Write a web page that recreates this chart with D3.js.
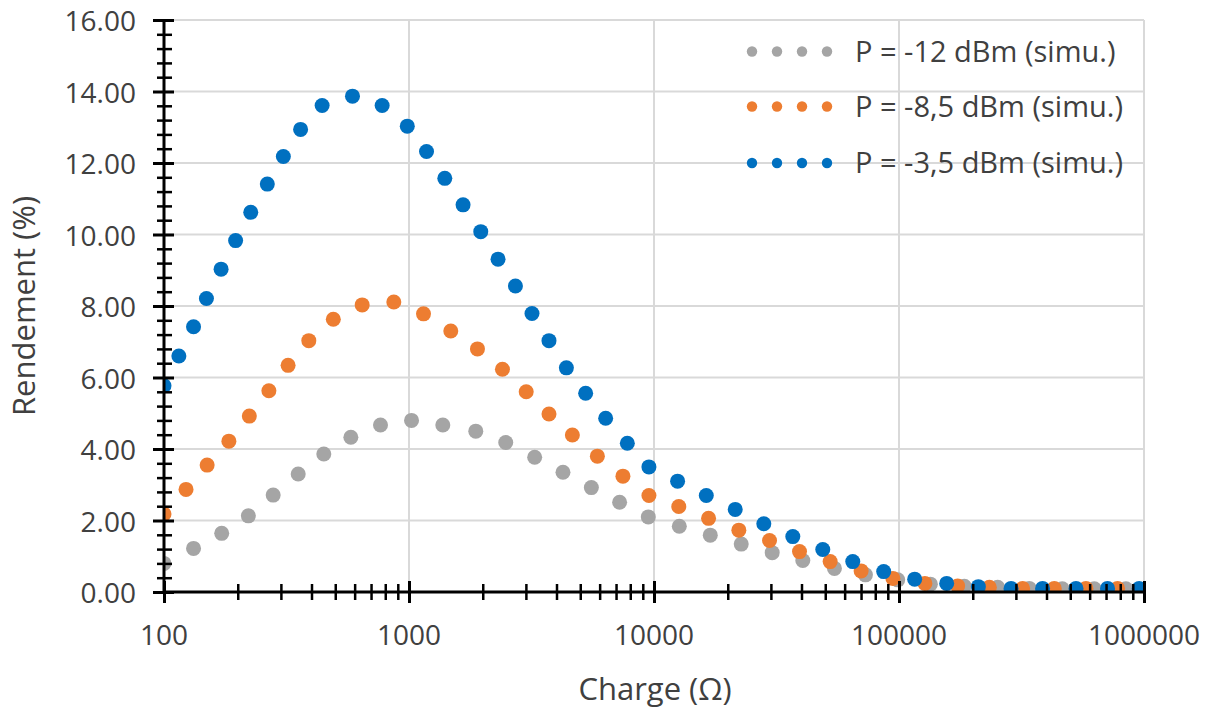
<!DOCTYPE html>
<html>
<head>
<meta charset="utf-8">
<script src="https://cdn.jsdelivr.net/npm/d3@7"></script>
<style>
  html, body { margin: 0; padding: 0; background: #ffffff; }
  svg { display: block; }
  text { font-family: "Open Sans", "Noto Sans", sans-serif; fill: #404040; }
</style>
</head>
<body>
<svg id="chart" width="1215" height="713"></svg>
<script>
// ---------- data ----------
const seriesNames = ["P = -12 dBm (simu.)", "P = -8,5 dBm (simu.)", "P = -3,5 dBm (simu.)"];
const seriesColors = ["#a5a5a5", "#ed7d31", "#0070c0"];

const xGrey = [100, 132, 172, 221, 279, 353, 449, 579, 765, 1024, 1374, 1873, 2482, 3258, 4251, 5550, 7238, 9479, 12685, 16970, 22699, 30370, 40491, 54512, 72946, 98790, 134276, 184800, 252700, 340200, 463800, 626700, 843700];
const yGrey = [0.80, 1.22, 1.64, 2.13, 2.71, 3.30, 3.86, 4.33, 4.67, 4.80, 4.67, 4.50, 4.18, 3.77, 3.35, 2.92, 2.51, 2.10, 1.84, 1.59, 1.34, 1.10, 0.88, 0.66, 0.48, 0.34, 0.22, 0.16, 0.13, 0.10, 0.09, 0.09, 0.09];

const xOrange = [100, 123, 150, 184, 223, 268, 321, 390, 491, 644, 867, 1146, 1481, 1903, 2406, 3009, 3727, 4643, 5873, 7468, 9534, 12623, 16700, 22196, 29615, 39255, 52360, 70041, 94444, 127560, 173540, 233770, 319560, 430330, 579420, 779820];
const yOrange = [2.18, 2.87, 3.55, 4.22, 4.92, 5.63, 6.34, 7.03, 7.63, 8.03, 8.11, 7.78, 7.30, 6.80, 6.23, 5.60, 4.98, 4.39, 3.80, 3.24, 2.70, 2.39, 2.06, 1.73, 1.44, 1.13, 0.85, 0.59, 0.38, 0.24, 0.17, 0.13, 0.10, 0.10, 0.10, 0.10];

const xBlue = [100, 115, 132, 149, 171, 196, 226, 264, 307, 361, 442, 588, 777, 984, 1179, 1400, 1662, 1963, 2309, 2719, 3177, 3727, 4389, 5260, 6349, 7783, 9534, 12482, 16346, 21455, 28068, 36859, 48852, 64757, 86612, 115878, 156534, 210817, 286644, 385478, 527740, 709830, 955910];
const yBlue = [5.77, 6.60, 7.42, 8.21, 9.03, 9.83, 10.62, 11.41, 12.18, 12.94, 13.61, 13.87, 13.61, 13.03, 12.32, 11.57, 10.83, 10.08, 9.31, 8.56, 7.79, 7.03, 6.27, 5.56, 4.86, 4.16, 3.50, 3.10, 2.70, 2.31, 1.91, 1.55, 1.19, 0.85, 0.57, 0.36, 0.24, 0.15, 0.10, 0.10, 0.10, 0.10, 0.10];

const xMajorTicks = [100, 1000, 10000, 100000, 1000000];
const yMajorTicks = [0, 2, 4, 6, 8, 10, 12, 14, 16];
const xTitle = "Charge (Ω)";
const yTitle = "Rendement (%)";

// ---------- layout ----------
const svg = d3.select("#chart");
const L = 164, R = 1144, T = 20, B = 592;

const x = d3.scaleLog().domain([100, 1000000]).range([L, R]);
const y = d3.scaleLinear().domain([0, 16]).range([B, T]);

const xMinor = [];
for (let dec = 100; dec < 1000000; dec *= 10) for (let k = 2; k <= 9; k++) xMinor.push(dec * k);
const yMinor = d3.range(0, 16.0001, 0.4).map(v => +v.toFixed(1)).filter(v => Math.abs(v / 2 - Math.round(v / 2)) > 1e-6);

// gridlines
const grid = svg.append("g").attr("stroke", "#d9d9d9").attr("stroke-width", 2);
grid.selectAll("line.h").data(yMajorTicks.filter(v => v > 0)).enter().append("line")
  .attr("x1", L).attr("x2", R).attr("y1", d => y(d)).attr("y2", d => y(d));
grid.selectAll("line.v").data(xMajorTicks.filter(v => v > 100)).enter().append("line")
  .attr("y1", T).attr("y2", B).attr("x1", d => x(d)).attr("x2", d => x(d));

// points
svg.append("clipPath").attr("id", "plotclip").append("rect")
  .attr("x", L).attr("y", T).attr("width", R - L).attr("height", B - T);
const plot = svg.append("g").attr("clip-path", "url(#plotclip)");
const series = [
  { xs: xGrey, ys: yGrey },
  { xs: xOrange, ys: yOrange },
  { xs: xBlue, ys: yBlue }
];
series.forEach((s, i) => {
  plot.append("g").selectAll("circle").data(s.xs.map((xv, j) => [xv, s.ys[j]])).enter()
    .append("circle")
    .attr("cx", d => x(d[0])).attr("cy", d => y(d[1])).attr("r", 7.5)
    .attr("fill", seriesColors[i]);
});

// axes (crossing ticks built from two-sided d3 axes)
function styleAxis(g, w) {
  g.select(".domain").remove();
  g.selectAll(".tick line").attr("stroke", "#000").attr("stroke-width", w);
  g.selectAll(".tick text").remove();
}
// X axis ticks
svg.append("g").attr("transform", `translate(0,${B})`)
  .call(d3.axisBottom(x).tickValues(xMajorTicks).tickSize(11).tickFormat(""))
  .call(g => styleAxis(g, 3));
svg.append("g").attr("transform", `translate(0,${B})`)
  .call(d3.axisTop(x).tickValues(xMajorTicks).tickSize(11).tickFormat(""))
  .call(g => styleAxis(g, 3));
svg.append("g").attr("transform", `translate(0,${B})`)
  .call(d3.axisBottom(x).tickValues(xMinor).tickSize(8).tickFormat(""))
  .call(g => styleAxis(g, 2.5));
svg.append("g").attr("transform", `translate(0,${B})`)
  .call(d3.axisTop(x).tickValues(xMinor).tickSize(8).tickFormat(""))
  .call(g => styleAxis(g, 2.5));
// Y axis ticks
svg.append("g").attr("transform", `translate(${L},0)`)
  .call(d3.axisLeft(y).tickValues(yMajorTicks).tickSize(11).tickFormat(""))
  .call(g => styleAxis(g, 3));
svg.append("g").attr("transform", `translate(${L},0)`)
  .call(d3.axisRight(y).tickValues(yMajorTicks).tickSize(10).tickFormat(""))
  .call(g => styleAxis(g, 3));
svg.append("g").attr("transform", `translate(${L},0)`)
  .call(d3.axisLeft(y).tickValues(yMinor).tickSize(7).tickFormat(""))
  .call(g => styleAxis(g, 2.5));
svg.append("g").attr("transform", `translate(${L},0)`)
  .call(d3.axisRight(y).tickValues(yMinor).tickSize(8).tickFormat(""))
  .call(g => styleAxis(g, 2.5));

// axis lines
svg.append("line").attr("x1", L).attr("x2", R).attr("y1", B).attr("y2", B)
  .attr("stroke", "#000").attr("stroke-width", 3);
svg.append("line").attr("x1", L).attr("x2", L).attr("y1", T - 1).attr("y2", B + 1)
  .attr("stroke", "#000").attr("stroke-width", 3);

// tick labels
svg.append("g").selectAll("text").data(yMajorTicks).enter().append("text")
  .attr("x", 136).attr("y", d => y(d) + 11)
  .attr("text-anchor", "end").attr("font-size", 28)
  .text(d => d3.format(".2f")(d));
svg.append("g").selectAll("text").data(xMajorTicks).enter().append("text")
  .attr("x", d => x(d)).attr("y", 645)
  .attr("text-anchor", "middle").attr("font-size", 28)
  .text(d => d3.format("d")(d));

// axis titles
svg.append("text").attr("x", 655).attr("y", 700).attr("text-anchor", "middle")
  .attr("font-size", 31).text(xTitle);
svg.append("text").attr("transform", "translate(35,306) rotate(-90)")
  .attr("text-anchor", "middle").attr("font-size", 31).text(yTitle);

// legend
const legRows = [51.5, 106.5, 163];
const leg = svg.append("g");
seriesNames.forEach((name, i) => {
  const g = leg.append("g");
  [752, 777, 802, 827].forEach(cx => {
    g.append("circle").attr("cx", cx).attr("cy", legRows[i]).attr("r", 5.2).attr("fill", seriesColors[i]);
  });
  g.append("text").attr("x", 855).attr("y", legRows[i] + 10)
    .attr("font-size", 29).text(name);
});
</script>
</body>
</html>
